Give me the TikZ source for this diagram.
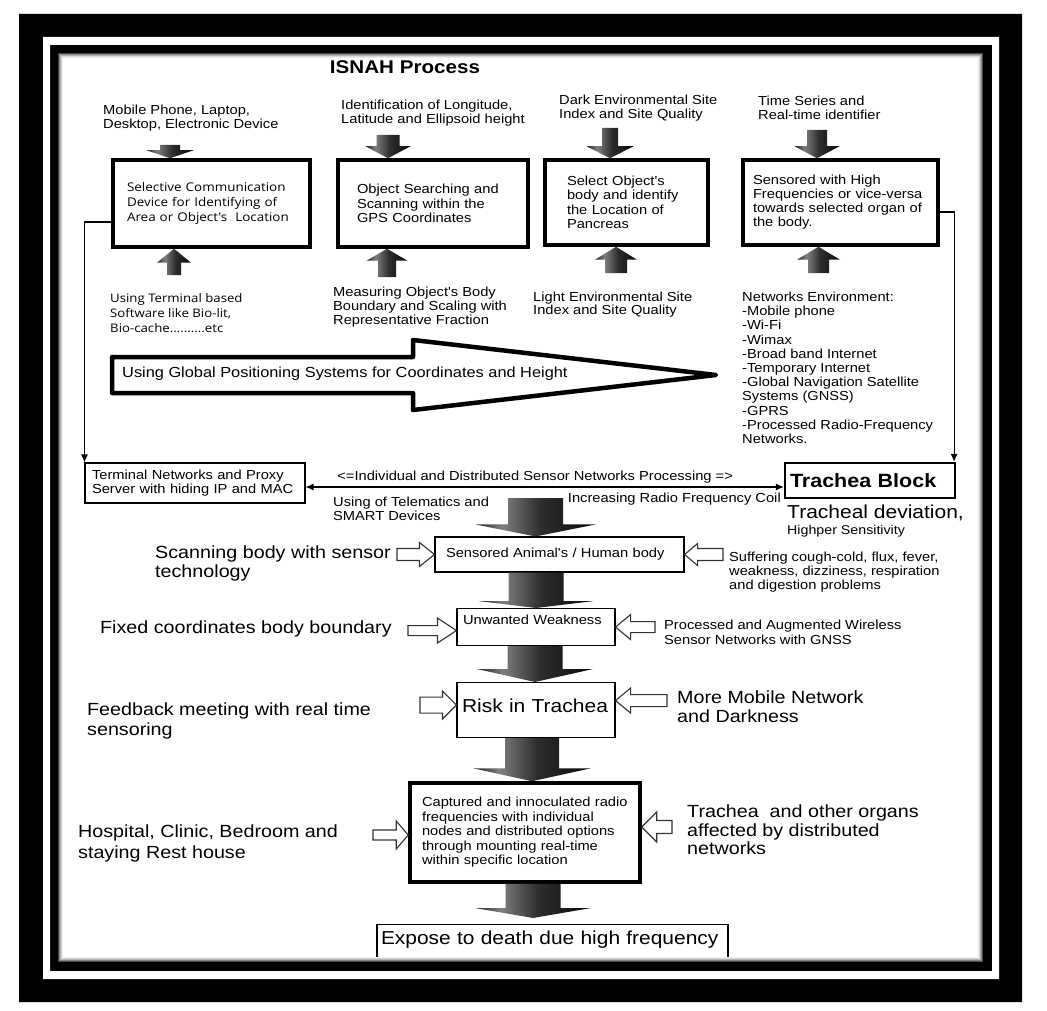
\documentclass[tikz,border=0pt]{standalone}
\usepackage{fontspec}
\setmainfont{Liberation Sans}[FakeStretch=1.12, Ligatures=TeXOff]
\newfontfamily\osans{Open Sans}[FakeStretch=1.12, Ligatures=TeXOff]
\usetikzlibrary{arrows.meta,calc}

\pgfdeclarehorizontalshading{blkshade}{100bp}{color(0bp)=(black!90); color(25bp)=(black!88); color(36bp)=(black!50); color(52bp)=(black!82); color(75bp)=(black!97); color(100bp)=(black!97)}

% dark block arrow: tail, tip, half shaft, half head, head length
\newcommand\blkarr[5]{%
  \path[blk] let \p1=#1, \p2=#2, \n1={sign(\y1-\y2)} in
    (\x2-#3,\y1) -- (\x2+#3,\y1) -- (\x2+#3,\y2+\n1*#5) -- (\x2+#4,\y2+\n1*#5)
    -- (\x2,\y2) -- (\x2-#4,\y2+\n1*#5) -- (\x2-#3,\y2+\n1*#5) -- cycle;}
% hollow side arrow: tail, tip, half shaft, half head, head length
\newcommand\holarr[5]{%
  \path[hol] let \p1=#1, \p2=#2, \n1={sign(\x1-\x2)} in
    (\x1,\y2-#3) -- (\x2+\n1*#5,\y2-#3) -- (\x2+\n1*#5,\y2-#4) -- (\x2,\y2)
    -- (\x2+\n1*#5,\y2+#4) -- (\x2+\n1*#5,\y2+#3) -- (\x1,\y2+#3) -- cycle;}

\begin{document}
\begin{tikzpicture}[x=1pt,y=-1pt,
  lbl/.style={anchor=north west, inner sep=0pt, align=left, font=\fontsize{13.1}{14}\selectfont},
  big/.style={lbl, font=\fontsize{17.6}{19}\selectfont},
  thickbox/.style={draw, line width=3.5pt, fill=white, align=left, inner ysep=0pt, font=\fontsize{13.1}{14.4}\selectfont},
  thinbox/.style={draw, line width=1.1pt, fill=white, align=left, inner ysep=0pt, font=\fontsize{13.1}{14}\selectfont},
  >={Latex[length=8pt,width=7pt]},
  conn/.style={line width=1.2pt, ->},
  blk/.style={shade, shading=blkshade},
  hol/.style={draw=black!80, line width=1.1pt, fill=white}]
\useasboundingbox (0,0) rectangle (1047,1011);
\fill[white] (0,0) rectangle (1047,1011);

\node[font=\bfseries\fontsize{18.4}{20}\selectfont] (title) at (405,67) {ISNAH Process};

% top row
\node[lbl] (t1) at (103,104.8) {Mobile Phone, Laptop,\\Desktop, Electronic Device};
\node[lbl] (t2) at (341,99.8) {Identification of Longitude,\\Latitude and Ellipsoid height};
\node[lbl] (t3) at (559,94.8) {Dark Environmental Site\\Index and Site Quality};
\node[lbl] (t4) at (758,95.8) {Time Series and\\Real-time identifier};

\node[thickbox, minimum height=87pt, text width=169pt, inner xsep=14pt, font=\osans\fontsize{12}{15}\selectfont] (b1) at (211.5,203.5) {Selective Communication\\Device for Identifying of\\Area or Object's~ Location};
\node[thickbox, minimum height=87pt, text width=152pt, inner xsep=19pt] (b2) at (433,203.5) {Object Searching and\\Scanning within the\\GPS Coordinates};
\node[thickbox, minimum height=85pt, text width=119pt, inner xsep=22pt] (b3) at (626.5,202.5) {Select Object's\\body and identify\\the Location of\\Pancreas};
\node[thickbox, minimum height=85pt, text width=175pt, inner xsep=10pt, font=\fontsize{13.1}{14}\selectfont] (b4) at (840.5,202.5) {Sensored with High\\Frequencies or vice-versa\\towards selected organ of\\the body.};

\blkarr{(170,145)}{(170,0 |- b1.north)}{10}{23.5}{8}
\blkarr{(388,135)}{(388,0 |- b2.north)}{11.5}{22.5}{12}
\blkarr{(610,128)}{(610,0 |- b3.north)}{8}{23.5}{12}
\blkarr{(817,130)}{(817,0 |- b4.north)}{10}{22.5}{12}
\blkarr{(174,275)}{(174,0 |- b1.south)}{7}{17}{14}
\blkarr{(387,277)}{(387,0 |- b2.south)}{9}{20.5}{12}
\blkarr{(616,273)}{(616,0 |- b3.south)}{11}{21}{13}
\blkarr{(818.5,273)}{(818.5,0 |- b4.south)}{10.5}{21.5}{13}

\node[lbl, font=\osans\fontsize{11.8}{15}\selectfont] (u1) at (110,293.1) {Using Terminal based\\Software like Bio-lit,\\Bio-cache..........etc};
\node[lbl] (u2) at (333,286.8) {Measuring Object's Body\\Boundary and Scaling with\\Representative Fraction};
\node[lbl, font=\fontsize{13.1}{13.5}\selectfont] (u3) at (533,291.8) {Light Environmental Site\\Index and Site Quality};
\node[lbl, font=\fontsize{13.1}{14.2}\selectfont] (u4) at (742,291.8) {Networks Environment:\\-Mobile phone\\-Wi-Fi\\-Wimax\\-Broad band Internet\\-Temporary Internet\\-Global Navigation Satellite\\Systems (GNSS)\\-GPRS\\-Processed Radio-Frequency\\Networks.};

% GPS arrow
\draw[line width=4.5pt, fill=white, line join=round] (112,357) -- (413,357) -- (413,340) -- (716,375) -- (413,410) -- (413,393) -- (112,393) -- cycle;
\node[lbl, font=\fontsize{14.6}{16}\selectfont] (gps) at (122,366.9) {Using Global Positioning Systems for Coordinates and Height};

% network row
\node[thinbox, minimum height=40pt, text width=206pt, inner xsep=7pt, font=\fontsize{13.1}{13.5}\selectfont] (term) at (195,483) {Terminal Networks and Proxy\\Server with hiding IP and MAC};
\node[draw, line width=2.2pt, fill=white, minimum height=35pt, text width=160pt, inner xsep=5pt, inner ysep=0pt, align=left, font=\bfseries\fontsize{19.2}{21}\selectfont] (trach) at (870,480.5) {Trachea Block};

\draw[conn] ($(b1.west)+(0,18.5)$) -| (term.north west);
\draw[conn] ($(b4.east)+(0,9.5)$) -| ($(trach.north east)+(-2,0)$);
\draw[conn, <->] ($(term.east)+(0,4)$) coordinate (dl) -- (dl -| trach.west)
  node[pos=0.48, above=3pt, inner sep=0pt, font=\fontsize{13.1}{14}\selectfont] (proc) {<=Individual and Distributed Sensor Networks Processing =>};

\node[lbl] (tele) at (333,496.8) {Using of Telematics and\\SMART Devices};
\node[lbl, anchor=north east] (coil) at (781,492.8) {Increasing Radio Frequency Coil};
\node[lbl, font=\fontsize{18.75}{21}\selectfont] (dev) at (787,504.5) {Tracheal deviation,};
\node[lbl, font=\fontsize{12.7}{14}\selectfont] (sensi) at (787,524.8) {Highper Sensitivity};

% centre column
\node[thinbox, minimum height=35pt, text width=227pt, inner xsep=11pt] (body) at (559.5,554.5) {Sensored Animal's / Human body};
\node[thinbox, anchor=north, text width=146pt, inner xsep=6pt, inner ysep=4pt, text height=12.3pt, text depth=16.7pt] (weak) at (536,608) {Unwanted Weakness};
\node[thinbox, anchor=north, text width=148pt, inner xsep=5pt, inner ysep=5pt, text height=24.7pt, text depth=20.3pt, font=\fontsize{18.75}{21}\selectfont] (risk) at (536,682) {Risk in Trachea};
\node[thickbox, minimum height=99pt, text width=206pt, inner xsep=12pt, font=\fontsize{13.1}{14.5}\selectfont] (capt) at (525,832.5) {Captured and innoculated radio\\frequencies with individual\\nodes and distributed options\\through mounting real-time\\within specific location};
\node[draw, line width=1.1pt, fill=white, anchor=north, text width=343pt, inner xsep=4pt, inner ysep=0pt, text height=20pt, text depth=45pt, align=left, font=\fontsize{18.7}{21}\selectfont] (expose) at (552.5,924) {Expose to death due high frequency};

\blkarr{(535.5,498)}{(535.5,0 |- body.north)}{27.5}{60}{12}
\blkarr{(536,0 |- body.south)}{(536,0 |- weak.north)}{27.5}{58}{7}
\blkarr{(535,0 |- weak.south)}{(535,0 |- risk.north)}{27.5}{58}{13}
\blkarr{(532,0 |- risk.south)}{(532,0 |- capt.north)}{27}{59}{13}
\blkarr{(533,0 |- capt.south)}{(533,918)}{27.5}{58}{10}

\holarr{(397,0)}{(body.west)}{6}{12}{15}
\holarr{(723,0)}{(body.east)}{6}{11}{13}
\holarr{(408,0)}{($(weak.west)+(0,3.5)$)}{5}{12.5}{19}
\holarr{(655,0)}{(weak.east)}{5.5}{12.5}{15}
\holarr{(420,0)}{($(risk.west)+(0,-5)$)}{8}{14}{14}
\holarr{(667,0)}{($(risk.east)+(0,-9.5)$)}{6}{12.5}{15}
\holarr{(373,0)}{($(capt.west)+(0,2.5)$)}{5}{14}{12}
\holarr{(672,0)}{($(capt.east)+(0,-5.5)$)}{6.5}{15}{15}

\node[big] (scan) at (155,546) {Scanning body with sensor\\technology};
\node[big] (fixed) at (100,621) {Fixed coordinates body boundary};
\node[big, font=\fontsize{17.6}{20}\selectfont] (feed) at (87,703) {Feedback meeting with real time\\sensoring};
\node[big] (mob) at (677,691) {More Mobile Network\\and Darkness};
\node[big, font=\fontsize{17.6}{20.5}\selectfont] (hosp) at (78,825) {Hospital, Clinic, Bedroom and\\staying Rest house};
\node[big, font=\fontsize{17.6}{18.5}\selectfont] (organs) at (687,805) {Trachea~ and other organs\\affected by distributed\\networks};

\node[lbl] (suff) at (729,551.5) {Suffering cough-cold, flux, fever,\\weakness, dizziness, respiration\\and digestion problems};
\node[lbl, font=\fontsize{13.1}{15}\selectfont] (aug) at (664,619.8) {Processed and Augmented Wireless\\Sensor Networks with GNSS};

% frame
\foreach \d/\c in {0.5/70,1.5/48,2.5/30,3.5/16,4.5/6}
  \draw[black!\c, line width=1pt] ({58+\d},{53+\d}) rectangle ({983-\d},{962-\d});
\fill[black, even odd rule] (19,14) rectangle (1022,1002) (58,53) rectangle (983,962);
\fill[white, even odd rule] (43,37) rectangle (999,979) (50,45) rectangle (992,971);
\end{tikzpicture}
\end{document}
